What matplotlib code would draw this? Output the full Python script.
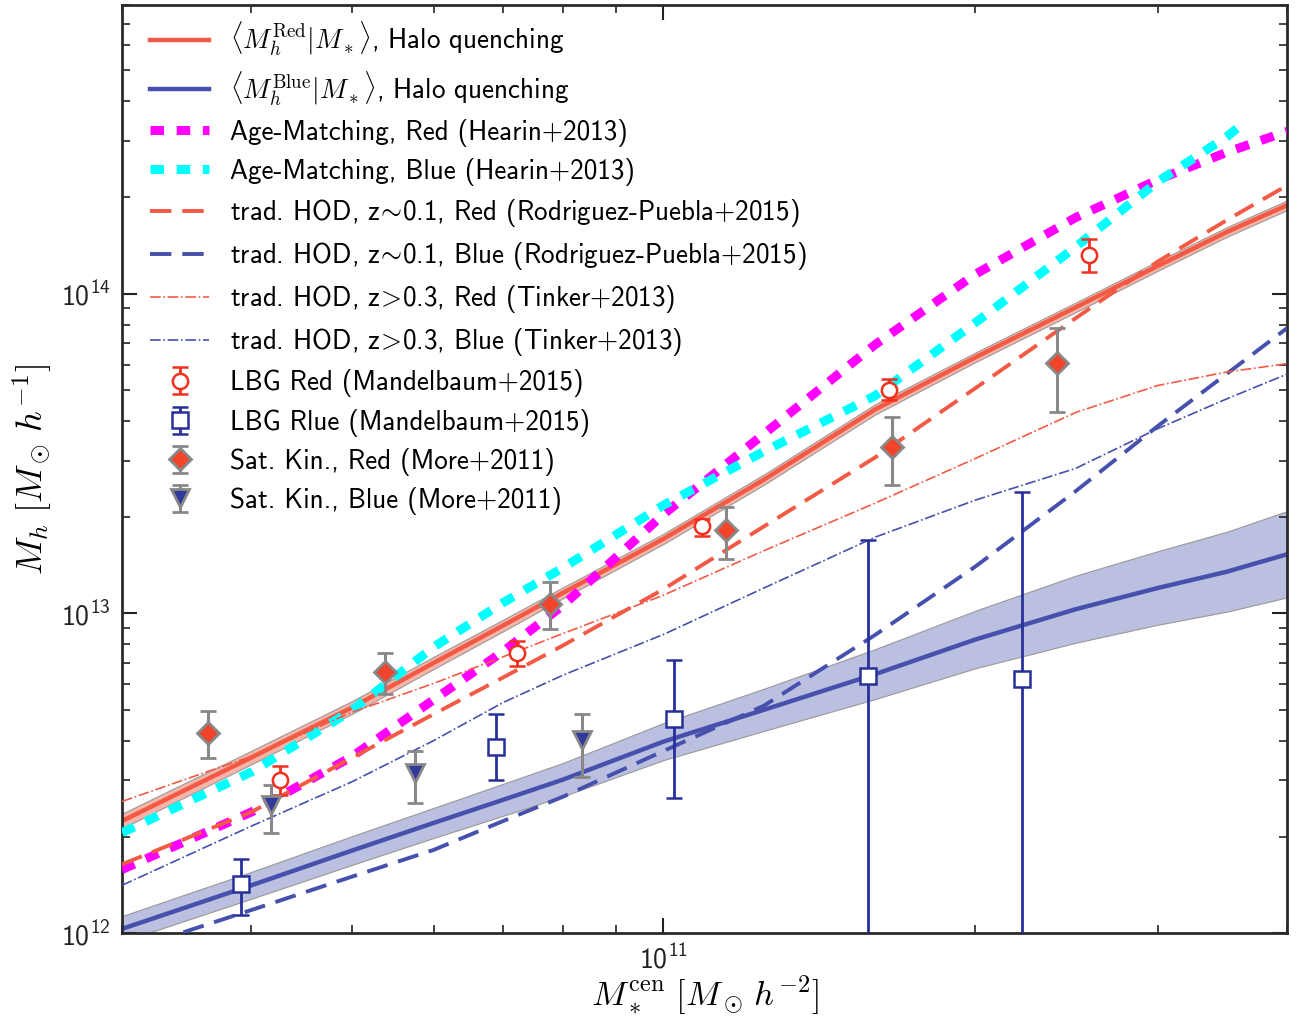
import numpy as np
import matplotlib
matplotlib.use('Agg')
import matplotlib.pyplot as plt
from matplotlib.ticker import NullFormatter

plt.rcParams['mathtext.fontset'] = 'cm'
plt.rcParams['font.family'] = 'cmss10'
plt.rcParams['axes.formatter.use_mathtext'] = True

# stellar mass grid for the model curves [Msun h^-2]
mstar = [3e10, 4e10, 5e10, 6e10, 7e10, 8e10, 1e11, 1.25e11, 1.6e11, 2e11, 2.5e11, 3e11, 3.5e11, 4e11]

# halo quenching model: mean halo mass and band half-width (dex)
red_hq = [2.24e12, 3.54e12, 5.07e12, 7.0e12, 9.16e12, 1.16e13, 1.71e13, 2.62e13, 4.34e13,
          6.32e13, 9.06e13, 1.22e14, 1.56e14, 1.89e14]
red_hq_dex = [0.023, 0.021, 0.02, 0.019, 0.018, 0.017, 0.016, 0.016, 0.016, 0.015, 0.015,
              0.015, 0.015, 0.015]
blue_hq = [1.03e12, 1.41e12, 1.81e12, 2.21e12, 2.61e12, 3.02e12, 3.97e12, 4.99e12, 6.45e12,
           8.28e12, 1.03e13, 1.20e13, 1.35e13, 1.53e13]
blue_hq_dex = [0.04, 0.042, 0.045, 0.047, 0.05, 0.052, 0.058, 0.066, 0.078, 0.09, 0.105,
               0.115, 0.125, 0.135]

# age matching (Hearin+2013)
age_red = [1.58e12, 2.39e12, 3.56e12, 5.37e12, 7.6e12, 1.06e13, 2.04e13, 3.64e13, 6.92e13,
           1.15e14, 1.73e14, 2.27e14, 2.77e14, 3.22e14]
age_blue_x = [3e10, 4e10, 5e10, 6e10, 7e10, 8e10, 1e11, 1.25e11, 1.6e11, 2e11, 2.5e11, 3e11,
              3.5e11, 3.6e11]
age_blue = [2.06e12, 3.19e12, 4.97e12, 7.85e12, 1.08e13, 1.39e13, 2.18e13, 3.21e13, 4.79e13,
            8.11e13, 1.40e14, 2.24e14, 3.10e14, 3.34e14]

# traditional HOD, z~0.1 (Rodriguez-Puebla+2015)
rp_red = [1.64e12, 2.39e12, 3.53e12, 4.84e12, 6.3e12, 7.94e12, 1.19e13, 1.87e13, 3.07e13,
          5.06e13, 8.38e13, 1.26e14, 1.70e14, 2.18e14]
rp_blue = [8.7e11, 1.18e12, 1.50e12, 1.82e12, 2.24e12, 2.67e12, 3.71e12, 5.14e12, 8.55e12,
           1.40e13, 2.41e13, 3.85e13, 5.62e13, 7.80e13]

# traditional HOD, z>0.3 (Tinker+2013)
tinker_red = [2.58e12, 3.57e12, 4.90e12, 6.04e12, 7.31e12, 8.65e12, 1.14e13, 1.57e13, 2.21e13,
              3.05e13, 4.25e13, 5.16e13, 5.69e13, 6.04e13]
tinker_blue = [1.41e12, 2.16e12, 2.97e12, 4.0e12, 5.26e12, 6.41e12, 8.59e12, 1.20e13, 1.73e13,
               2.26e13, 2.84e13, 3.78e13, 4.69e13, 5.60e13]

# galaxy-galaxy lensing (Mandelbaum+2015)
lbg_red_x = [4.26e10, 7.22e10, 1.089e11, 1.652e11, 2.577e11]
lbg_red_y = [3.02e12, 7.53e12, 1.87e13, 5.0e13, 1.32e14]
lbg_red_lo = [2.71e12, 6.84e12, 1.74e13, 4.65e13, 1.17e14]
lbg_red_hi = [3.34e12, 8.19e12, 1.98e13, 5.39e13, 1.48e14]
lbg_blue_x = [3.91e10, 6.89e10, 1.024e11, 1.575e11, 2.22e11]
lbg_blue_y = [1.42e12, 3.82e12, 4.66e12, 6.35e12, 6.22e12]
lbg_blue_lo = [1.14e12, 3.0e12, 2.64e12, 1e11, 1e11]
lbg_blue_hi = [1.71e12, 4.85e12, 7.13e12, 1.70e13, 2.39e13]

# satellite kinematics (More+2011)
sk_red_x = [3.63e10, 5.38e10, 7.77e10, 1.149e11, 1.663e11, 2.40e11]
sk_red_y = [4.22e12, 6.55e12, 1.067e13, 1.82e13, 3.31e13, 6.07e13]
sk_red_lo = [3.53e12, 5.60e12, 8.91e12, 1.48e13, 2.52e13, 4.27e13]
sk_red_hi = [4.94e12, 7.53e12, 1.25e13, 2.15e13, 4.11e13, 7.79e13]
sk_blue_x = [4.18e10, 5.75e10, 8.34e10]
sk_blue_y = [2.51e12, 3.17e12, 4.03e12]
sk_blue_lo = [2.06e12, 2.56e12, 3.07e12]
sk_blue_hi = [2.91e12, 3.72e12, 4.85e12]

RED = '#f25a45'
BLUE = '#4650ad'

fig = plt.figure(figsize=(12.98, 10.21), dpi=100)
ax = fig.add_axes([122 / 1298, 88 / 1021, 1165 / 1298, 928 / 1021])
ax.set_xscale('log')
ax.set_yscale('log')

# confidence bands
r = np.array(red_hq)
rd = 10 ** np.array(red_hq_dex)
ax.fill_between(mstar, r / rd, r * rd, facecolor='#f7b5aa', edgecolor='#999999', lw=0.8, zorder=1)
b = np.array(blue_hq)
bd = 10 ** np.array(blue_hq_dex)
ax.fill_between(mstar, b / bd, b * bd, facecolor='#bbbfe0', edgecolor='#999999', lw=0.8, zorder=1)

l1, = ax.plot(mstar, red_hq, color=RED, lw=3.2, zorder=2)
l2, = ax.plot(mstar, blue_hq, color=BLUE, lw=3.2, zorder=2)
l3, = ax.plot(mstar, age_red, color='magenta', lw=6.5, dashes=(1.5, 1.4), zorder=3)
l4, = ax.plot(age_blue_x, age_blue, color='cyan', lw=6.5, dashes=(1.5, 1.4), zorder=3)
l5, = ax.plot(mstar, rp_red, color=RED, lw=2.8, dashes=(5.5, 2.8), zorder=4)
l6, = ax.plot(mstar, rp_blue, color=BLUE, lw=2.8, dashes=(5.5, 2.8), zorder=4)
l7, = ax.plot(mstar, tinker_red, color=RED, lw=1.2, ls='-.', zorder=4)
l8, = ax.plot(mstar, tinker_blue, color=BLUE, lw=1.2, ls='-.', zorder=4)


def yerr(y, lo, hi):
    y = np.array(y)
    return [y - np.array(lo), np.array(hi) - y]


e1 = ax.errorbar(lbg_red_x, lbg_red_y, yerr=yerr(lbg_red_y, lbg_red_lo, lbg_red_hi),
                 fmt='o', ms=11, mfc='white', mec='#f2301e', mew=1.8, ecolor='#f2301e',
                 elinewidth=2, capsize=6, capthick=2, zorder=6)
e2 = ax.errorbar(lbg_blue_x, lbg_blue_y, yerr=yerr(lbg_blue_y, lbg_blue_lo, lbg_blue_hi),
                 fmt='s', ms=11, mfc='white', mec='#27309a', mew=1.8, ecolor='#27309a',
                 elinewidth=2, capsize=6, capthick=2, zorder=6)
e3 = ax.errorbar(sk_red_x, sk_red_y, yerr=yerr(sk_red_y, sk_red_lo, sk_red_hi),
                 fmt='D', ms=11, mfc='#f2442a', mec='#888888', mew=2, ecolor='#888888',
                 elinewidth=2.2, capsize=6, capthick=2, zorder=6)
e4 = ax.errorbar(sk_blue_x, sk_blue_y, yerr=yerr(sk_blue_y, sk_blue_lo, sk_blue_hi),
                 fmt='v', ms=13, mfc='#2f3a9a', mec='#888888', mew=2, ecolor='#888888',
                 elinewidth=2.2, capsize=6, capthick=2, zorder=6)

ax.set_xlim(3e10, 4e11)
ax.set_ylim(1e12, 8e14)
ax.xaxis.set_minor_formatter(NullFormatter())
ax.yaxis.set_minor_formatter(NullFormatter())
ax.tick_params(which='both', direction='in', top=True, right=True, labelsize=20, colors='#222222')
ax.tick_params(which='major', length=11, width=1.5, pad=8)
ax.tick_params(which='minor', length=6, width=1.2)
for s in ax.spines.values():
    s.set_linewidth(2)
    s.set_color('#2a2a2a')

ax.set_xlabel(r'$M_*^{\rm cen}\ [M_\odot\, h^{-2}]$', fontsize=25, labelpad=0)
ax.set_ylabel(r'$M_h\ [M_\odot\, h^{-1}]$', fontsize=26, labelpad=4)

handles = [l1, l2, l3, l4, l5, l6, l7, l8, e1, e2, e3, e4]
labels = [
    r'$\langle M_h^{\rm Red}|M_*\rangle$, Halo quenching',
    r'$\langle M_h^{\rm Blue}|M_*\rangle$, Halo quenching',
    'Age-Matching, Red (Hearin+2013)',
    'Age-Matching, Blue (Hearin+2013)',
    r'trad. HOD, z$\!\sim\!$0.1, Red (Rodriguez-Puebla+2015)',
    r'trad. HOD, z$\!\sim\!$0.1, Blue (Rodriguez-Puebla+2015)',
    r'trad. HOD, z$\!>\!$0.3, Red (Tinker+2013)',
    r'trad. HOD, z$\!>\!$0.3, Blue (Tinker+2013)',
    'LBG Red (Mandelbaum+2015)',
    'LBG Rlue (Mandelbaum+2015)',
    'Sat. Kin., Red (More+2011)',
    'Sat. Kin., Blue (More+2011)',
]
ax.legend(handles, labels, loc='upper left', bbox_to_anchor=(0.011, 1.0), frameon=False,
          fontsize=19.5, handlelength=2.2, handletextpad=0.75, labelspacing=0.41,
          borderaxespad=0.2, borderpad=0.35)

fig.savefig('out.png', dpi=100)
